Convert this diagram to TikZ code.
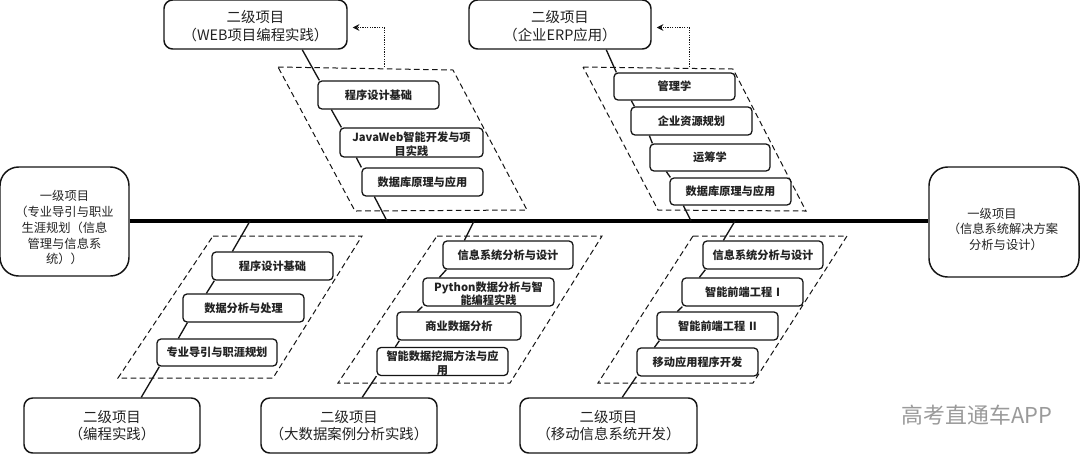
\documentclass[tikz,border=0pt]{standalone}
\usepackage{fontspec}
\setmainfont{Noto Sans CJK SC}
\usetikzlibrary{arrows.meta}
\newdimen\px \px=0.75pt
\newcommand{\lift}[1]{\rule{0pt}{#1\px}}
\definecolor{ink}{HTML}{141414}
\definecolor{txt}{HTML}{222222}
\definecolor{wm}{HTML}{9A9A9A}
\tikzset{
  anybox/.style={draw=ink,fill=white,align=center,inner sep=0pt,text=txt},
  topbox/.style={anybox,line width=1.1pt,rounded corners=6.5pt,font=\fontsize{10.8pt}{13.1pt}\selectfont},
  endbox/.style={anybox,line width=1.1pt,rounded corners=14pt,font=\fontsize{9.2pt}{11.8pt}\selectfont},
  coursebox/.style={anybox,line width=.95pt,rounded corners=3pt,font=\fontsize{8.4pt}{10.4pt}\selectfont\bfseries},
  zone/.style={draw=ink,line width=.75pt,dash pattern=on 4.2pt off 2.6pt},
  link/.style={draw=ink,line width=1pt},
  spine/.style={draw=black,line width=2.4pt},
  dots/.style={draw=ink,line width=.75pt,dash pattern=on .9pt off .9pt,-{Stealth[length=5pt,width=5pt]}},
}
% name, x0, y0, x1, y1, style, text
\newcommand{\bx}[7]{\node[#6,minimum width=#4*\px-#2*\px,minimum height=#5*\px-#3*\px,text width=#4*\px-#2*\px-4*\px] (#1) at ({(#2+#4)/2},{(#3+#5)/2}) {#7};}
\newcommand{\lk}[4]{\draw[link] ([xshift=#2*\px]#1.south west) -- ([xshift=#4*\px]#3.north west);}
\begin{document}
\begin{tikzpicture}[x=0.75pt,y=-0.75pt]
\useasboundingbox (0,0) rectangle (1080,455);
\fill[white] (0,0) rectangle (1080,455);
% zones
\draw[zone] (278,67) -- (453,70) -- (527,210) -- (355,211) -- cycle;
\draw[zone] (583,67) -- (733,69) -- (806,211) -- (658,210) -- cycle;
\draw[zone] (213,236) -- (362,236) -- (273,378) -- (118,378) -- cycle;
\draw[zone] (437,236) -- (602,236) -- (510,383) -- (338,383) -- cycle;
\draw[zone] (693,236) -- (847,236) -- (753,383) -- (598,383) -- cycle;
% boxes
\bx{ltop}{164}{0}{347}{49}{topbox}{\lift{15}二级项目\\（WEB项目编程实践）}
\bx{rtop}{469}{0}{651}{49}{topbox}{\lift{15}二级项目\\（企业ERP应用）}
\bx{lbot}{24}{398}{200}{453}{topbox}{二级项目\\（编程实践）}
\bx{mbot}{261}{398}{437}{453}{topbox}{二级项目\\（大数据案例分析实践）}
\bx{rbot}{520}{398}{697}{453}{topbox}{二级项目\\（移动信息系统开发）}
\bx{start}{0}{167}{129}{276}{endbox}{\lift{23}一级项目\\（专业导引与职业\\生涯规划（信息\\管理与信息系\\统））}
\bx{finish}{929}{167}{1079}{277}{endbox}{\lift{25}一级项目\hspace*{24\px}\mbox{}\\（信息系统解决方案\hspace*{2\px}\mbox{}\\\mbox{}\hspace*{4\px}分析与设计）}
\bx{a1}{318}{81}{439}{109}{coursebox}{程序设计基础}
\bx{a2}{340}{128}{483}{157}{coursebox}{\lift{13}JavaWeb智能开发与项\\目实践}
\bx{a3}{362}{168}{483}{196}{coursebox}{数据库原理与应用}
\bx{b1}{614}{73}{735}{100}{coursebox}{管理学}
\bx{b2}{631}{107}{752}{135}{coursebox}{企业资源规划}
\bx{b3}{650}{144}{770}{171}{coursebox}{运筹学}
\bx{b4}{670}{178}{791}{205}{coursebox}{数据库原理与应用}
\bx{c1}{212}{252}{333}{280}{coursebox}{程序设计基础}
\bx{c2}{183}{294}{304}{322}{coursebox}{数据分析与处理}
\bx{c3}{157}{339}{277}{366}{coursebox}{专业导引与职涯规划}
\bx{d1}{443}{241}{573}{269}{coursebox}{信息系统分析与设计}
\bx{d2}{423}{278}{554}{306}{coursebox}{\lift{13}Python数据分析与智\\能编程实践}
\bx{d3}{397}{312}{521}{340}{coursebox}{商业数据分析}
\bx{d4}{377}{348}{508}{375}{coursebox}{\lift{13}智能数据挖掘方法与应\\用}
\bx{e1}{703}{241}{823}{269}{coursebox}{信息系统分析与设计}
\bx{e2}{682}{278}{803}{306}{coursebox}{智能前端工程 I}
\bx{e3}{657}{312}{778}{340}{coursebox}{智能前端工程 II}
\bx{e4}{637}{348}{758}{376}{coursebox}{移动应用程序开发}
% spine
\draw[spine] (start.east |- 0,221) coordinate (sl) -- (finish.west |- 0,221);
\coordinate (ja) at (387,221); \coordinate (jb) at (691,221);
\coordinate (jc) at (250,221); \coordinate (jd) at (474,221); \coordinate (je) at (735,221);
% ribs
\lk{ltop}{139}{a1}{2}
\lk{a1}{14}{a2}{2}
\lk{a2}{17}{a3}{0}
\draw[link] ([xshift=13*\px]a3.south west) -- (ja);
\lk{rtop}{138}{b1}{3}
\lk{b1}{18}{b2}{4}
\lk{b2}{19}{b3}{3}
\lk{b3}{17}{b4}{1}
\draw[link] ([xshift=14*\px]b4.south west) -- (jb);
\draw[link] (jc) -- ([xshift=21*\px]c1.north west);
\draw[link] ([xshift=3*\px]c1.south west) -- ([xshift=24*\px]c2.north west);
\draw[link] ([xshift=5*\px]c2.south west) -- ([xshift=22*\px]c3.north west);
\draw[link] ([xshift=3*\px]c3.south west) -- ([xshift=118*\px]lbot.north west);
\draw[link] (jd) -- ([xshift=22*\px]d1.north west);
\draw[link] ([xshift=4*\px]d1.south west) -- ([xshift=17*\px]d2.north west);
\draw[link] ([xshift=0*\px]d2.south west) -- ([xshift=21*\px]d3.north west);
\draw[link] ([xshift=3*\px]d3.south west) -- ([xshift=19*\px]d4.north west);
\draw[link] ([xshift=0*\px]d4.south west) -- ([xshift=102*\px]mbot.north west);
\draw[link] (je) -- ([xshift=21*\px]e1.north west);
\draw[link] ([xshift=3*\px]e1.south west) -- ([xshift=18*\px]e2.north west);
\draw[link] ([xshift=1*\px]e2.south west) -- ([xshift=21*\px]e3.north west);
\draw[link] ([xshift=3*\px]e3.south west) -- ([xshift=18*\px]e4.north west);
\draw[link] ([xshift=0*\px]e4.south west) -- ([xshift=103*\px]rbot.north west);
% feedback arrows
\coordinate (fa) at (384,67); \coordinate (fb) at (689,67);
\draw[dots] (fa) |- ([xshift=5*\px,yshift=-3*\px]ltop.east);
\draw[dots] (fb) |- ([xshift=5*\px,yshift=-3*\px]rtop.east);
% watermark
\node[text=wm,inner sep=0pt,font=\fontsize{16.4pt}{18pt}\selectfont] (mark) at (977,415) {高考直通车APP};
\end{tikzpicture}
\end{document}
